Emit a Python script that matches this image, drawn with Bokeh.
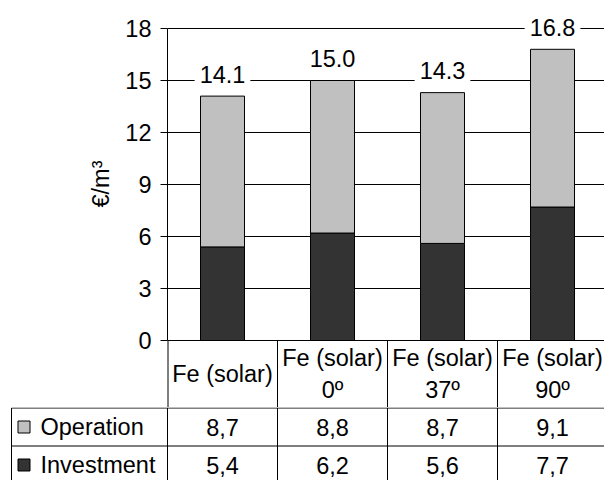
import numpy as np
from bokeh.plotting import figure
from bokeh.models import ColumnDataSource, FixedTicker, Range1d, Title
from bokeh.layouts import column, row
from bokeh.embed import file_html
from bokeh.resources import INLINE
from bokeh.core.properties import value

# ---------------- data ----------------
categories = ["Fe (solar)", "Fe (solar)\n0º", "Fe (solar)\n37º", "Fe (solar)\n90º"]
series_names = ["Operation", "Investment"]
operation = [8.7, 8.8, 8.7, 9.1]
investment = [5.4, 6.2, 5.6, 7.7]
y_ticks = [0, 3, 6, 9, 12, 15, 18]
y_label = "€/m³"

# ---------------- style / layout ----------------
FONT = "Liberation Sans"
FS = "23.5px"
LIGHT = "#C0C0C0"
DARK = "#333333"
W = 604
PLOT_LEFT = 167          # left border of chart figure (px)
TABLE_LEFT = 10          # left border of table figure (px)
ppu_x = 110              # px per category
n = len(categories)
x_end = (W - PLOT_LEFT) / ppu_x
ymax = y_ticks[-1]
TOP_PAD = 28             # px above the top tick
ZERO_PX = 340            # frame top -> y=0 (px)
k = (ZERO_PX - TOP_PAD) / ymax
HEADER_PX = 67
y_end = ymax + TOP_PAD / k
y_start = -HEADER_PX / k
CHART_H = ZERO_PX + HEADER_PX
TABLE_H = 480 - CHART_H
ROW_PX = 38

xs = np.arange(n) + 0.5
totals = [round(o + i, 1) for o, i in zip(operation, investment)]

src = ColumnDataSource(dict(
    x=xs, inv=investment, op=operation, tot=totals,
    tot_lbl=[f"{t:.1f}" for t in totals],
    cat=categories,
))

# ---------------- chart figure ----------------
p = figure(width=W, height=CHART_H, output_backend="svg",
           toolbar_location=None, x_range=Range1d(0, x_end),
           y_range=Range1d(y_start, y_end), x_axis_location=None,
           min_border_left=PLOT_LEFT, min_border_right=0,
           min_border_top=0, min_border_bottom=0)
p.outline_line_color = None
p.background_fill_color = "white"
p.border_fill_color = "white"

ax = p.yaxis[0]
ax.ticker = FixedTicker(ticks=y_ticks)
ax.bounds = (0, ymax)
ax.major_label_text_font = FONT
ax.major_label_text_font_size = FS
ax.major_label_text_color = "black"
ax.major_label_standoff = 9
ax.major_tick_in = 0
ax.major_tick_out = 7
ax.minor_tick_line_color = None
ax.axis_line_color = "black"
ax.major_tick_line_color = "black"

# axis title placed beside the 0..18 value span
p.add_layout(Title(text=y_label, align="right", text_font=FONT,
                   text_font_size=FS, text_font_style="normal",
                   text_color="black", offset=160, standoff=18), "left")

p.ygrid.grid_line_color = "black"
p.ygrid.grid_line_width = 1
p.xgrid.visible = False

p.vbar_stack(["inv", "op"], x="x", width=0.4, color=[DARK, LIGHT],
             line_color="black", line_width=1, source=src)

p.text(x="x", y="tot", text="tot_lbl", source=src, text_align="center",
       text_baseline="middle", y_offset=-22, text_font=value(FONT),
       text_font_size=FS, text_color="black",
       background_fill_color="white", padding=5)

# x axis line and header cell borders
p.segment(x0=[0], y0=[0], x1=[x_end], y1=[0], line_color="black", line_width=1)
p.segment(x0=[0], y0=[0], x1=[0], y1=[y_start], line_color="black", line_width=2)
p.segment(x0=list(range(1, n)), y0=[0] * (n - 1), x1=list(range(1, n)),
          y1=[y_start] * (n - 1), line_color="black", line_width=1)
p.text(x="x", y=y_start / 2, text="cat", source=src, text_align="center",
       text_baseline="middle", text_font=value(FONT), text_font_size=FS,
       text_color="black", text_line_height=1.2)

# ---------------- data table figure ----------------
ppu_y = ROW_PX
t_start = -(PLOT_LEFT - TABLE_LEFT) / ppu_x
line_left = -(PLOT_LEFT - TABLE_LEFT - 1) / ppu_x
t = figure(width=W, height=TABLE_H, output_backend="svg", toolbar_location=None,
           x_range=Range1d(t_start, x_end),
           y_range=Range1d(2 - (TABLE_H - 0.5) / ppu_y, 2 + 0.5 / ppu_y),
           x_axis_location=None, y_axis_location=None,
           min_border_left=TABLE_LEFT, min_border_right=0,
           min_border_top=0, min_border_bottom=0)
t.outline_line_color = None
t.background_fill_color = "white"
t.border_fill_color = "white"
t.grid.visible = False

rows = [operation, investment]          # top row first
row_y = [1.5, 0.5]
row_colors = [LIGHT, DARK]

t.segment(x0=[line_left] * 3, y0=[0, 1, 2], x1=[x_end] * 3, y1=[0, 1, 2],
          line_color="black", line_width=1)
vx = [line_left] + list(range(0, n))
t.segment(x0=vx, y0=[0] * len(vx), x1=vx, y1=[2] * len(vx),
          line_color="black", line_width=1)

t.scatter(x=[line_left + 12.5 / ppu_x] * 2, y=row_y, marker="square", size=12,
          fill_color=row_colors, line_color="black", line_width=1)
t.text(x=[line_left + 29 / ppu_x] * 2, y=row_y, text=series_names,
       text_align="left", text_baseline="middle", text_font=value(FONT),
       text_font_size=FS, text_color="black")

cx, cy, ct = [], [], []
for vals, yy in zip(rows, row_y):
    for xx, v in zip(xs, vals):
        cx.append(xx)
        cy.append(yy)
        ct.append(f"{v:.1f}".replace(".", ","))
t.text(x=cx, y=cy, text=ct, text_align="center", text_baseline="middle",
       text_font=value(FONT), text_font_size=FS, text_color="black")

layout = column(row(p), row(t), spacing=0)
open("out.html", "w").write(file_html(layout, INLINE))
